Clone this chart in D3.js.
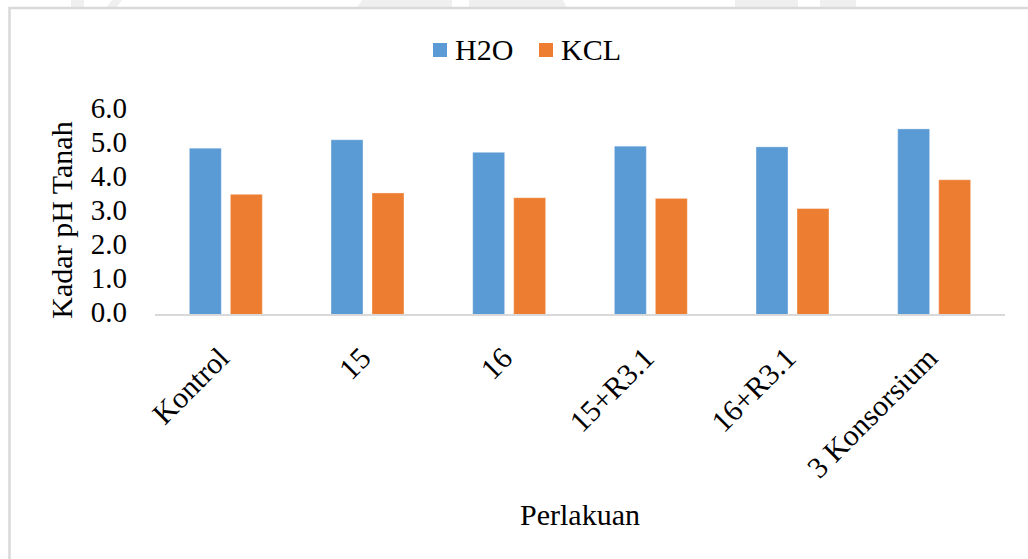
<!DOCTYPE html>
<html>
<head>
<meta charset="utf-8">
<script src="https://cdn.jsdelivr.net/npm/d3@7"></script>
<style>
  html, body { margin: 0; padding: 0; background: #fff; }
  svg { display: block; }
  text { font-family: "Liberation Serif", "Times New Roman", serif; fill: #000; }
</style>
</head>
<body>
<svg id="chart" width="1028" height="559"></svg>
<script>
// Soil pH per treatment, measured in water and in KCl
const categories = ["Kontrol", "15", "16", "15+R3.1", "16+R3.1", "3 Konsorsium"];
const seriesNames = ["H2O", "KCL"];
const h2oValues = [4.92, 5.17, 4.80, 4.98, 4.96, 5.49];
const kclValues = [3.56, 3.60, 3.46, 3.44, 3.14, 3.99];
const yTicks = [0, 1, 2, 3, 4, 5, 6];
const yTitle = "Kadar pH Tanah";
const xTitle = "Perlakuan";

const colors = { H2O: "#5B9BD5", KCL: "#ED7D31" };

const rows = categories.map((c, i) => ({ category: c, H2O: h2oValues[i], KCL: kclValues[i] }));

const svg = d3.select("#chart");

// faint letterhead marks peeking above the chart frame
const mark = svg.append("g").attr("fill", "#efefef");
[[71, 84, 71, 84], [106, 116, 112, 122], [357, 452, 362, 452], [469, 567, 469, 563], [735, 798, 735, 798], [820, 856, 820, 856]]
  .forEach(([a, b, c, d]) => {
    mark.append("polygon").attr("points", `${a},8 ${b},8 ${d},0 ${c},0`);
  });

// chart area frame
svg.append("rect")
  .attr("x", 9.5).attr("y", 8)
  .attr("width", 1040).attr("height", 580)
  .attr("fill", "#fff")
  .attr("stroke", "#d9d9d9")
  .attr("stroke-width", 2.5);

const plot = { left: 155, right: 1005, top: 111.6, bottom: 315 };

const x0 = d3.scaleBand()
  .domain(categories)
  .range([plot.left, plot.right])
  .paddingInner(0.485)
  .paddingOuter(0.2425);

const x1 = d3.scaleBand()
  .domain(seriesNames)
  .range([0, x0.bandwidth()])
  .paddingInner(0.22);

const y = d3.scaleLinear()
  .domain([0, 6])
  .range([plot.bottom, plot.top]);

// y axis labels (no line, no ticks)
const yAxis = svg.append("g")
  .attr("transform", `translate(127,0)`)
  .call(d3.axisLeft(y).tickValues(yTicks).tickFormat(d3.format(".1f")).tickSize(0).tickPadding(0));
yAxis.select(".domain").remove();
yAxis.attr("font-family", null);
yAxis.selectAll("text")
  .attr("font-size", 29)
  .attr("fill", "#000")
  .attr("dy", null)
  .attr("y", 6);

// bars
const groups = svg.append("g").selectAll("g")
  .data(rows)
  .join("g")
  .attr("transform", d => `translate(${x0(d.category)},0)`);

groups.selectAll("rect")
  .data(d => seriesNames.map(s => ({ key: s, value: d[s] })))
  .join("rect")
  .attr("x", d => x1(d.key))
  .attr("y", d => y(d.value))
  .attr("width", x1.bandwidth())
  .attr("height", d => y(0) - y(d.value))
  .attr("fill", d => colors[d.key])
  .attr("stroke", "rgba(255,255,255,0.35)")
  .attr("stroke-width", 1);

// category axis line
svg.append("line")
  .attr("x1", plot.left).attr("x2", plot.right)
  .attr("y1", plot.bottom).attr("y2", plot.bottom)
  .attr("stroke", "#d9d9d9")
  .attr("stroke-width", 2);

// rotated category labels
svg.append("g").selectAll("text")
  .data(categories)
  .join("text")
  .attr("transform", d => `translate(${x0(d) + x0.bandwidth() / 2 + 5},360) rotate(-45)`)
  .attr("text-anchor", "end")
  .attr("font-size", 30)
  .text(d => d);

// axis titles
svg.append("text")
  .attr("transform", `translate(72,220) rotate(-90)`)
  .attr("text-anchor", "middle")
  .attr("font-size", 30)
  .text(yTitle);

svg.append("text")
  .attr("x", (plot.left + plot.right) / 2)
  .attr("y", 525)
  .attr("text-anchor", "middle")
  .attr("font-size", 30)
  .text(xTitle);

// legend
const legend = svg.append("g");
const legendItems = [{ key: "H2O", x: 433 }, { key: "KCL", x: 539 }];
legendItems.forEach(item => {
  legend.append("rect")
    .attr("x", item.x).attr("y", 43)
    .attr("width", 14).attr("height", 14)
    .attr("fill", colors[item.key]);
  legend.append("text")
    .attr("x", item.x + 22).attr("y", 60)
    .attr("font-size", 30)
    .text(item.key);
});
</script>
</body>
</html>
